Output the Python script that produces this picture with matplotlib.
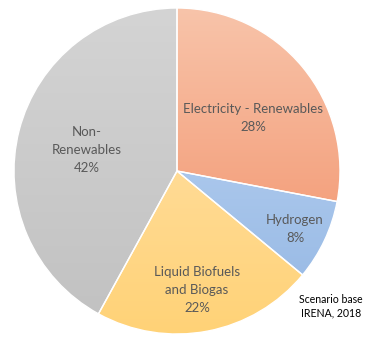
import matplotlib
matplotlib.use("Agg")
import matplotlib.pyplot as plt
from matplotlib.colors import to_rgb
import numpy as np

categories = ["Electricity - Renewables", "Hydrogen", "Liquid Biofuels\nand Biogas", "Non-\nRenewables"]
values = [28, 8, 22, 42]
colors_top = ["#F8C4AA", "#AAC7EC", "#FFDB95", "#D4D4D4"]
colors_bottom = ["#F4A27F", "#9BBCE6", "#FFD276", "#C2C2C2"]
note = "Scenario base\nIRENA, 2018"

# label anchor positions (pie data units, radius = 1)
label_pos = [(0.466, 0.328), (0.724, -0.353), (0.123, -0.733), (-0.552, 0.130)]

fig = plt.figure(figsize=(3.8, 3.43), dpi=100)
ax = fig.add_axes([14/380, 9/343, 326/380, 326/343])
wedges, _ = ax.pie(values, colors=colors_bottom, startangle=90, counterclock=False,
                   radius=1.0, wedgeprops=dict(edgecolor="white", linewidth=1.0))

for w, ct, cb in zip(wedges, colors_top, colors_bottom):
    verts = w.get_path().vertices
    xmin, ymin = verts.min(axis=0)
    xmax, ymax = verts.max(axis=0)
    t = np.linspace(0, 1, 256)[:, None]
    grad = (1 - t) * np.array(to_rgb(ct)) + t * np.array(to_rgb(cb))
    img = np.repeat(grad[:, None, :], 2, axis=1)
    im = ax.imshow(img, extent=[xmin, xmax, ymin, ymax], origin="upper",
                   aspect="auto", zorder=1, interpolation="bilinear")
    im.set_clip_path(w)
    w.set_facecolor("none")
    w.set_zorder(2)
ax.set_xlim(-1, 1)
ax.set_ylim(-1, 1)
ax.set_aspect("equal")
ax.axis("off")

total = sum(values)
for cat, v, (lx, ly) in zip(categories, values, label_pos):
    ax.text(lx, ly, f"{cat}\n{round(100*v/total)}%",
            ha="center", va="center", fontsize=9.5, color="#595959",
            family="Lato", linespacing=1.6, zorder=3)

fig.text(331/380, 1 - 306/343, note, ha="center", va="center", fontsize=7.6,
         family="Lato", color="black", linespacing=1.3)

fig.savefig("out.png", dpi=100)
